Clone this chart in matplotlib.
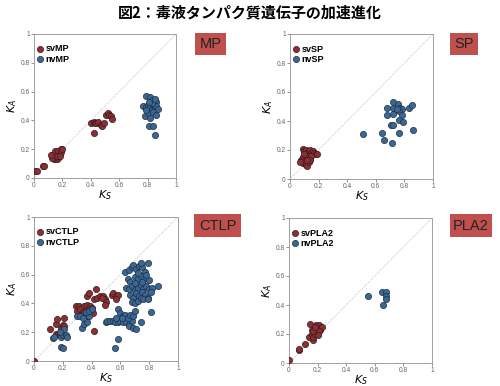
import matplotlib
matplotlib.use("Agg")
from matplotlib import pyplot as plt
from matplotlib.patches import Rectangle

plt.rcParams['font.family'] = ['Liberation Sans', 'DejaVu Sans']

title = "図2：毒液タンパク質遺伝子の加速進化"
ticks = [0, 0.2, 0.4, 0.6, 0.8, 1]
tick_labels = ["0", "0.2", "0.4", "0.6", "0.8", "1"]

# MP
mp_sv_ks = [0.01, 0.02, 0.06, 0.07, 0.13, 0.14, 0.15, 0.15, 0.16, 0.17, 0.18, 0.19, 0.14, 0.16, 0.17, 0.18, 0.13,
            0.15, 0.17, 0.19, 0.2, 0.16, 0.12, 0.18, 0.4, 0.42, 0.43, 0.44, 0.45, 0.47, 0.48, 0.49, 0.42,
            0.51, 0.52, 0.53, 0.54, 0.55]
mp_sv_ka = [0.05, 0.05, 0.08, 0.085, 0.16, 0.15, 0.14, 0.17, 0.18, 0.16, 0.19, 0.2, 0.13, 0.13, 0.14, 0.17, 0.14,
            0.19, 0.19, 0.18, 0.2, 0.15, 0.16, 0.15, 0.385, 0.39, 0.385, 0.38, 0.39, 0.37, 0.36, 0.385, 0.31,
            0.44, 0.45, 0.44, 0.43, 0.41]
mp_nv_ks = [0.79, 0.82, 0.83, 0.86, 0.77, 0.79, 0.8, 0.81, 0.82, 0.83, 0.84, 0.85, 0.86, 0.87, 0.78, 0.8, 0.82,
            0.84, 0.86, 0.81, 0.84, 0.85, 0.79, 0.83, 0.85, 0.81]
mp_nv_ka = [0.57, 0.56, 0.54, 0.53, 0.5, 0.49, 0.51, 0.48, 0.5, 0.47, 0.51, 0.49, 0.5, 0.48, 0.43, 0.45, 0.42,
            0.46, 0.44, 0.36, 0.36, 0.3, 0.47, 0.52, 0.55, 0.53]

# SP
sp_sv_ks = [0.09, 0.1, 0.11, 0.12, 0.13, 0.14, 0.15, 0.16, 0.17, 0.18, 0.19, 0.08, 0.09, 0.1, 0.11, 0.12, 0.13,
            0.14, 0.15, 0.09, 0.1, 0.11, 0.12, 0.13, 0.14, 0.07, 0.1, 0.12]
sp_sv_ka = [0.21, 0.19, 0.2, 0.18, 0.19, 0.2, 0.18, 0.19, 0.18, 0.17, 0.17, 0.13, 0.15, 0.14, 0.16, 0.15, 0.16,
            0.14, 0.16, 0.11, 0.12, 0.1, 0.09, 0.12, 0.13, 0.12, 0.17, 0.13]
sp_nv_ks = [0.51, 0.64, 0.66, 0.71, 0.705, 0.72, 0.76, 0.86, 0.68, 0.68, 0.72, 0.755, 0.72, 0.72, 0.77, 0.78,
            0.765, 0.78, 0.765, 0.79, 0.83, 0.85, 0.75]
sp_nv_ka = [0.31, 0.32, 0.27, 0.25, 0.37, 0.37, 0.32, 0.34, 0.44, 0.49, 0.53, 0.52, 0.49, 0.45, 0.49, 0.48,
            0.47, 0.44, 0.41, 0.39, 0.49, 0.51, 0.48]

# CTLP
ctlp_sv_ks = [0, 0.11, 0.15, 0.16, 0.21, 0.15, 0.17, 0.18, 0.19, 0.2, 0.21,
              0.29, 0.31, 0.33, 0.35, 0.37, 0.39, 0.3, 0.32, 0.34, 0.36, 0.38, 0.4, 0.33, 0.35, 0.37, 0.39, 0.41,
              0.37, 0.38, 0.43, 0.42, 0.44, 0.46, 0.48, 0.49, 0.5, 0.49, 0.47,
              0.54, 0.55, 0.57, 0.58, 0.57, 0.42]
ctlp_sv_ka = [0, 0.22, 0.26, 0.29, 0.3, 0.19, 0.19, 0.18, 0.23, 0.25, 0.24,
              0.38, 0.38, 0.37, 0.38, 0.39, 0.38, 0.35, 0.36, 0.34, 0.35, 0.36, 0.37, 0.32, 0.33, 0.31, 0.33, 0.33,
              0.45, 0.47, 0.5, 0.43, 0.44, 0.45, 0.45, 0.43, 0.41, 0.39, 0.44,
              0.46, 0.47, 0.45, 0.46, 0.43, 0.21]
ctlp_nv_ks = [0.13, 0.14, 0.19, 0.2, 0.22, 0.23, 0.21, 0.19, 0.2, 0.18,
              0.3, 0.32, 0.33, 0.35, 0.36, 0.37, 0.38, 0.36, 0.38, 0.4, 0.34,
              0.5, 0.51, 0.53, 0.55, 0.56, 0.58, 0.6, 0.62, 0.64, 0.66, 0.68, 0.58, 0.57, 0.6, 0.62, 0.63, 0.65,
              0.67, 0.69, 0.7, 0.61, 0.66, 0.69, 0.71, 0.74, 0.58, 0.56,
              0.63, 0.66, 0.68, 0.69, 0.71, 0.73, 0.75, 0.74, 0.79, 0.77, 0.65, 0.67, 0.7, 0.72, 0.74, 0.76, 0.78,
              0.64, 0.66, 0.68, 0.7, 0.72, 0.74, 0.76, 0.78, 0.8, 0.82, 0.86, 0.67, 0.69, 0.71, 0.73, 0.75, 0.77,
              0.79, 0.81, 0.68, 0.7, 0.72, 0.74, 0.76, 0.79, 0.81, 0.72, 0.7, 0.75, 0.8]
ctlp_nv_ka = [0.16, 0.17, 0.17, 0.18, 0.18, 0.17, 0.22, 0.1, 0.09, 0.2,
              0.31, 0.31, 0.23, 0.26, 0.29, 0.27, 0.31, 0.34, 0.35, 0.36, 0.3,
              0.27, 0.28, 0.28, 0.28, 0.27, 0.27, 0.28, 0.27, 0.27, 0.26, 0.28, 0.36, 0.3, 0.33, 0.31, 0.32, 0.3,
              0.32, 0.31, 0.35, 0.3, 0.24, 0.23, 0.22, 0.27, 0.15, 0.09,
              0.62, 0.63, 0.65, 0.67, 0.64, 0.66, 0.65, 0.68, 0.68, 0.62, 0.57, 0.55, 0.58, 0.57, 0.59, 0.56, 0.6,
              0.51, 0.5, 0.52, 0.49, 0.51, 0.53, 0.5, 0.52, 0.5, 0.51, 0.52, 0.46, 0.44, 0.47, 0.45, 0.48, 0.46,
              0.44, 0.48, 0.41, 0.4, 0.42, 0.44, 0.43, 0.43, 0.34, 0.61, 0.54, 0.55, 0.56]

# PLA2
pla2_sv_ks = [0, 0.07, 0.07, 0.11, 0.14, 0.15, 0.16, 0.17, 0.17, 0.18, 0.18, 0.19, 0.19, 0.2, 0.2, 0.21, 0.22,
              0.22, 0.23, 0.21, 0.16, 0.17, 0.18, 0.2]
pla2_sv_ka = [0.02, 0.09, 0.1, 0.13, 0.18, 0.27, 0.2, 0.16, 0.18, 0.2, 0.23, 0.24, 0.26, 0.22, 0.25, 0.26, 0.24,
              0.23, 0.25, 0.22, 0.23, 0.22, 0.25, 0.19]
pla2_nv_ks = [0.55, 0.65, 0.68, 0.68, 0.68, 0.66]
pla2_nv_ka = [0.46, 0.49, 0.49, 0.46, 0.44, 0.4]

panels = [
    ("MP", mp_sv_ks, mp_sv_ka, mp_nv_ks, mp_nv_ka),
    ("SP", sp_sv_ks, sp_sv_ka, sp_nv_ks, sp_nv_ka),
    ("CTLP", ctlp_sv_ks, ctlp_sv_ka, ctlp_nv_ks, ctlp_nv_ka),
    ("PLA2", pla2_sv_ks, pla2_sv_ka, pla2_nv_ks, pla2_nv_ka),
]

W, H = 500, 386
# axes boxes in pixels: left, top, right, bottom
ax_px = [(34, 34, 176, 178), (290, 34, 433, 179), (34, 217, 178, 361), (289, 218, 432, 363)]
# name boxes in pixels
box_px = [(195, 33, 226, 55), (450, 33, 478, 55), (194, 214, 241, 237), (450, 214, 492, 237)]

red = "#8a2f35"
blue = "#3b6795"

fig = plt.figure(figsize=(5, 3.86), dpi=100)

fig.text(0.5, 1 - 12 / H, title, ha="center", va="center", fontsize=10.8, fontweight="bold",
         family=["Noto Sans CJK JP", "DejaVu Sans"])

for (name, svx, svy, nvx, nvy), (l, t, r, b), (bl, bt, br, bb) in zip(panels, ax_px, box_px):
    ax = fig.add_axes([l / W, 1 - b / H, (r - l) / W, (b - t) / H])
    ax.plot([0, 1], [0, 1], linestyle=(0, (1, 1.5)), color="#b0b0b0", linewidth=0.6, zorder=1)
    ax.scatter(svx, svy, s=20, color=red, edgecolors="#3a1a1a", linewidths=0.5, zorder=3, label="sv" + name)
    ax.scatter(nvx, nvy, s=20, color=blue, edgecolors="#1e2e40", linewidths=0.5, zorder=3, label="nv" + name)
    ax.set_xlim(0, 1)
    ax.set_ylim(0, 1)
    ax.set_xticks(ticks)
    ax.set_xticklabels(tick_labels)
    ax.set_yticks(ticks)
    ax.set_yticklabels(tick_labels)
    ax.tick_params(labelsize=4.8, colors="#666666", length=2, width=0.5, pad=1)
    for sp in ax.spines.values():
        sp.set_color("#a0a0a0")
        sp.set_linewidth(0.7)
    ax.set_xlabel("$K_S$", fontsize=8, labelpad=-1)
    ax.set_ylabel("$K_A$", fontsize=8, labelpad=1)
    ax.legend(loc="upper left", bbox_to_anchor=(0.0, 0.94), frameon=False, handletextpad=0.2,
              borderaxespad=0, borderpad=0.2, labelspacing=0.15, handlelength=0.9,
              prop={"weight": "bold", "size": 6.5})
    fig.patches.append(Rectangle((bl / W, 1 - bb / H), (br - bl) / W, (bb - bt) / H,
                                 transform=fig.transFigure, facecolor="#c0504d", edgecolor="none"))
    fig.text((bl + br) / 2 / W, 1 - (bt + bb) / 2 / H, name, ha="center", va="center",
             fontsize=10.5, color="#222222")

fig.savefig("out.png", dpi=100)
